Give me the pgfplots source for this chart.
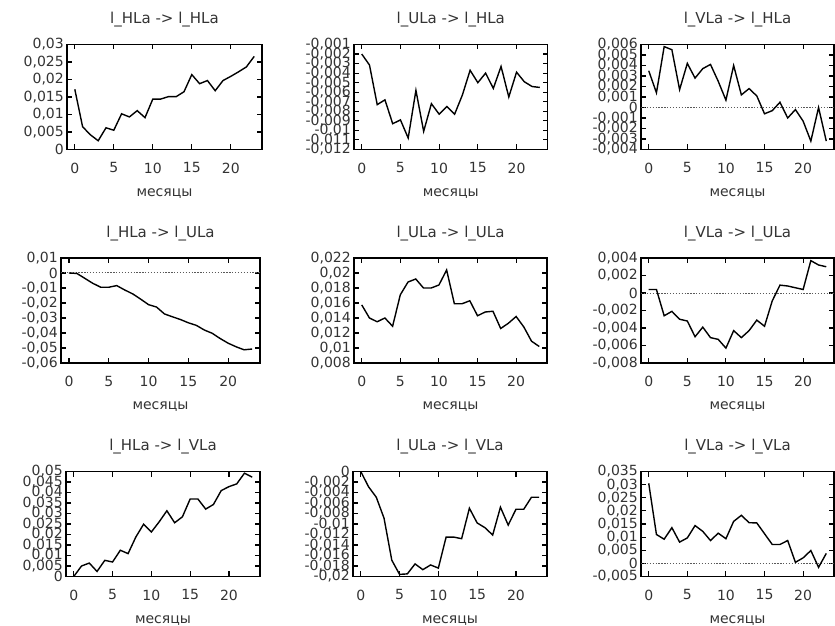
\documentclass[border=0pt]{standalone}
\usepackage{fontspec}
\setmainfont{DejaVu Sans}
\usepackage{pgfplots}
\pgfplotsset{compat=1.18}

\pgfplotsset{
  irf/.style={
    scale only axis, height=105pt,
    xmin=-1, xmax=24, xtick={0,5,10,15,20},
    tick align=inside, major tick length=5pt,
    axis line style={line width=1.4pt},
    every tick/.style={black, line width=1.1pt},
    scaled y ticks=false,
    /pgf/number format/assume math mode=true,
    tick label style={font=\fontsize{14}{14}\selectfont, text=black!80},
    yticklabel style={/pgf/number format/fixed, /pgf/number format/precision=3,
      /pgf/number format/use comma, inner sep=0pt, xshift=-3pt},
    xticklabel style={inner sep=0pt, yshift=-13pt},
    every axis title/.style={at={(axis description cs:0.5,1)}, anchor=center,
      yshift=24.5pt, font=\fontsize{15}{15}\selectfont, text=black!80},
    every axis x label/.style={at={(axis description cs:0.5,0)}, anchor=center,
      yshift=-44pt, font=\fontsize{14}{14}\selectfont, text=black!80},
    xlabel={месяцы},
  },
  resp/.style={black, line width=1.4pt, no marks, sharp plot},
  zero/.style={black!65, line width=1pt, dash pattern=on 1.3pt off 1.6pt, no marks},
}

\begin{document}
\begin{tikzpicture}
\useasboundingbox (0,0) rectangle (835pt,626pt);

% row 1
\begin{axis}[irf, at={(67pt,476.5pt)}, anchor=south west, width=195pt,
  ymin=0, ymax=0.03, ytick={0,0.005,0.01,0.015,0.02,0.025,0.03},
  title={l\_HLa -> l\_HLa}]
\addplot[resp] coordinates {(0,0.0172)(1,0.0065)(2,0.0042)(3,0.0025)(4,0.0062)(5,0.0055)(6,0.0102)(7,0.0093)(8,0.0111)(9,0.0091)(10,0.0144)(11,0.0144)(12,0.0151)(13,0.0151)(14,0.0165)(15,0.0214)(16,0.0188)(17,0.0197)(18,0.0168)(19,0.0197)(20,0.0209)(21,0.0222)(22,0.0236)(23,0.0266)};
\end{axis}

\begin{axis}[irf, at={(354pt,476.5pt)}, anchor=south west, width=193.5pt,
  ymin=-0.012, ymax=-0.001,
  ytick={-0.012,-0.011,-0.010,-0.009,-0.008,-0.007,-0.006,-0.005,-0.004,-0.003,-0.002,-0.001},
  title={l\_ULa -> l\_HLa}]
\addplot[resp] coordinates {(0,-0.0020)(1,-0.00315)(2,-0.0073)(3,-0.0068)(4,-0.0093)(5,-0.0089)(6,-0.0108)(7,-0.0058)(8,-0.0101)(9,-0.0072)(10,-0.0083)(11,-0.0075)(12,-0.0083)(13,-0.0063)(14,-0.0037)(15,-0.0050)(16,-0.0040)(17,-0.0056)(18,-0.0033)(19,-0.0065)(20,-0.0039)(21,-0.0049)(22,-0.0054)(23,-0.0055)};
\end{axis}

\begin{axis}[irf, at={(641pt,476.5pt)}, anchor=south west, width=193pt,
  ymin=-0.004, ymax=0.006,
  ytick={-0.004,-0.003,-0.002,-0.001,0,0.001,0.002,0.003,0.004,0.005,0.006},
  title={l\_VLa -> l\_HLa}]
\addplot[zero] coordinates {(-1,0)(24,0)};
\addplot[resp] coordinates {(0,0.0035)(1,0.0014)(2,0.0058)(3,0.0055)(4,0.0017)(5,0.0042)(6,0.0028)(7,0.0037)(8,0.0041)(9,0.0025)(10,0.0007)(11,0.0040)(12,0.0012)(13,0.0018)(14,0.0011)(15,-0.0006)(16,-0.0003)(17,0.0005)(18,-0.0010)(19,-0.0002)(20,-0.0013)(21,-0.0032)(22,0.0000)(23,-0.0032)};
\end{axis}

% row 2
\begin{axis}[irf, at={(61pt,263pt)}, anchor=south west, width=199pt,
  ymin=-0.06, ymax=0.01, ytick={-0.06,-0.05,-0.04,-0.03,-0.02,-0.01,0,0.01},
  title={l\_HLa -> l\_ULa}]
\addplot[zero] coordinates {(-1,0)(24,0)};
\addplot[resp] coordinates {(0,0)(1,-0.0003)(2,-0.0036)(3,-0.0069)(4,-0.0095)(5,-0.0095)(6,-0.0084)(7,-0.0113)(8,-0.0139)(9,-0.0174)(10,-0.0211)(11,-0.0227)(12,-0.0273)(13,-0.0292)(14,-0.0310)(15,-0.0332)(16,-0.0349)(17,-0.0380)(18,-0.0402)(19,-0.0437)(20,-0.0468)(21,-0.0492)(22,-0.0512)(23,-0.0507)};
\end{axis}

\begin{axis}[irf, at={(354pt,263pt)}, anchor=south west, width=193pt,
  ymin=0.008, ymax=0.022, ytick={0.008,0.01,0.012,0.014,0.016,0.018,0.02,0.022},
  title={l\_ULa -> l\_ULa}]
\addplot[resp] coordinates {(0,0.01575)(1,0.0140)(2,0.0135)(3,0.0140)(4,0.0129)(5,0.0171)(6,0.0188)(7,0.0192)(8,0.0180)(9,0.0180)(10,0.0184)(11,0.0204)(12,0.0159)(13,0.0159)(14,0.0163)(15,0.0143)(16,0.0148)(17,0.0149)(18,0.0126)(19,0.0133)(20,0.0142)(21,0.0128)(22,0.0109)(23,0.0102)};
\end{axis}

\begin{axis}[irf, at={(641pt,263pt)}, anchor=south west, width=193pt,
  ymin=-0.008, ymax=0.004, ytick={-0.008,-0.006,-0.004,-0.002,0,0.002,0.004},
  title={l\_VLa -> l\_ULa}]
\addplot[zero] coordinates {(-1,0)(24,0)};
\addplot[resp] coordinates {(0,0.0004)(1,0.0004)(2,-0.0026)(3,-0.0021)(4,-0.0030)(5,-0.0032)(6,-0.0050)(7,-0.0039)(8,-0.0051)(9,-0.0053)(10,-0.0063)(11,-0.0043)(12,-0.0051)(13,-0.0043)(14,-0.0031)(15,-0.0038)(16,-0.0009)(17,0.0009)(18,0.0008)(19,0.0006)(20,0.0004)(21,0.0037)(22,0.0032)(23,0.0030)};
\end{axis}

% row 3
\begin{axis}[irf, at={(66pt,49.5pt)}, anchor=south west, width=194pt,
  ymin=0, ymax=0.05,
  ytick={0,0.005,0.01,0.015,0.02,0.025,0.03,0.035,0.04,0.045,0.05},
  title={l\_HLa -> l\_VLa}]
\addplot[resp] coordinates {(0,0.0000)(1,0.0050)(2,0.0064)(3,0.0024)(4,0.0077)(5,0.0069)(6,0.0125)(7,0.0109)(8,0.0188)(9,0.0249)(10,0.0212)(11,0.0260)(12,0.0313)(13,0.0256)(14,0.0284)(15,0.0369)(16,0.0369)(17,0.0321)(18,0.0343)(19,0.0409)(20,0.0428)(21,0.0441)(22,0.0492)(23,0.0473)};
\end{axis}

\begin{axis}[irf, at={(353pt,49.5pt)}, anchor=south west, width=194pt,
  ymin=-0.02, ymax=0,
  ytick={-0.02,-0.018,-0.016,-0.014,-0.012,-0.01,-0.008,-0.006,-0.004,-0.002,0},
  title={l\_ULa -> l\_VLa}]
\addplot[resp] coordinates {(0,0)(1,-0.0029)(2,-0.0049)(3,-0.0089)(4,-0.0169)(5,-0.0196)(6,-0.0195)(7,-0.0176)(8,-0.0187)(9,-0.0178)(10,-0.0184)(11,-0.0125)(12,-0.0125)(13,-0.0128)(14,-0.0070)(15,-0.0098)(16,-0.0107)(17,-0.0121)(18,-0.0068)(19,-0.0102)(20,-0.0072)(21,-0.0072)(22,-0.0049)(23,-0.0049)};
\end{axis}

\begin{axis}[irf, at={(641pt,49.5pt)}, anchor=south west, width=193pt,
  ymin=-0.005, ymax=0.035,
  ytick={-0.005,0,0.005,0.01,0.015,0.02,0.025,0.03,0.035},
  title={l\_VLa -> l\_VLa}]
\addplot[zero] coordinates {(-1,0)(24,0)};
\addplot[resp] coordinates {(0,0.0305)(1,0.0110)(2,0.0092)(3,0.0136)(4,0.0081)(5,0.0097)(6,0.0144)(7,0.0122)(8,0.0087)(9,0.0115)(10,0.0094)(11,0.0160)(12,0.0183)(13,0.0155)(14,0.0154)(15,0.0113)(16,0.0072)(17,0.0072)(18,0.0087)(19,0.0004)(20,0.0021)(21,0.0049)(22,-0.0015)(23,0.0038)};
\end{axis}
\end{tikzpicture}
\end{document}
